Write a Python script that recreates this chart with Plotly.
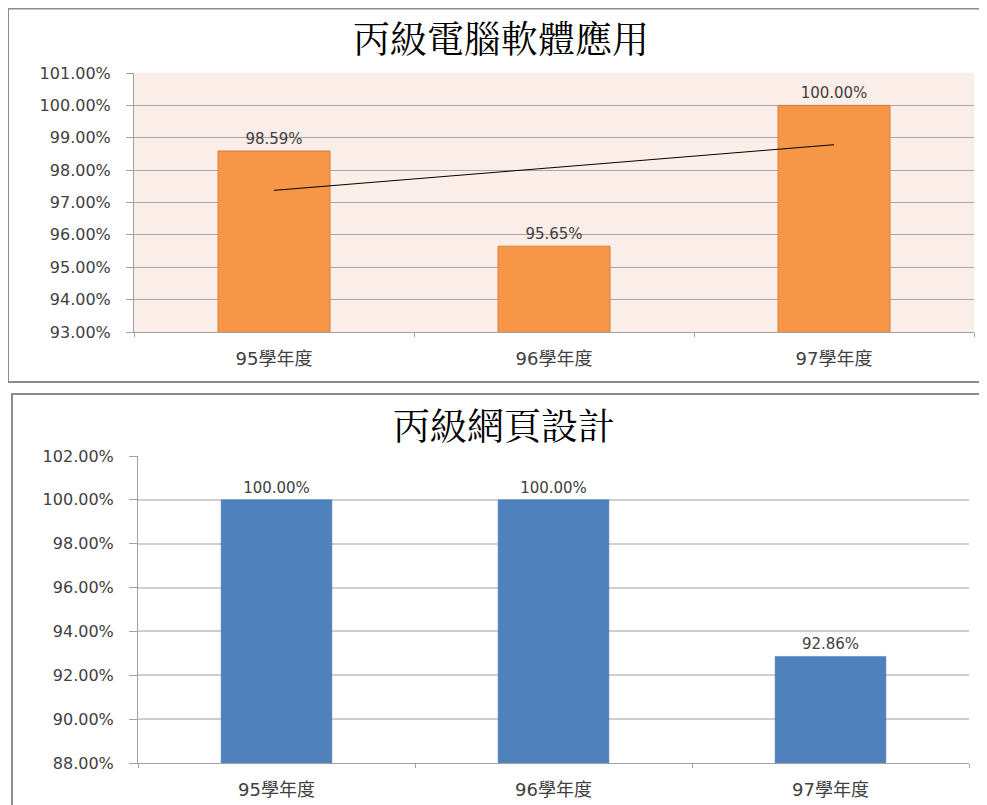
import numpy as np
import plotly.graph_objects as go

# ---- data ----
categories = ["95學年度", "96學年度", "97學年度"]
title_top = "丙級電腦軟體應用"
values_top = [98.59, 95.65, 100.00]
title_bottom = "丙級網頁設計"
values_bottom = [100.00, 100.00, 92.86]
yticks_top = [93, 94, 95, 96, 97, 98, 99, 100, 101]
yticks_bottom = [88, 90, 92, 94, 96, 98, 100, 102]

W, H = 987, 805
OX, OY = 8, 8  # page body margin offset
def px_x(x): return (x - OX) / W
def px_y(y): return 1 - (y - OY) / H

# linear trendline of the top series (least squares over category index)
idx = np.arange(1, len(values_top) + 1)
slope, intercept = np.polyfit(idx, values_top, 1)
trend = [slope * i + intercept for i in idx]

fig = go.Figure()

label_font = dict(family="DejaVu Sans", size=15, color="#404040")

fig.add_trace(go.Bar(
    x=categories, y=values_top, width=0.4,
    marker=dict(color="#F79646", line=dict(color="#D0803E", width=1)),
    text=[f"{v:.2f}%" for v in values_top], textposition="outside",
    textfont=label_font, cliponaxis=False, xaxis="x", yaxis="y",
    showlegend=False, hoverinfo="skip"))
fig.add_trace(go.Scatter(
    x=categories, y=trend, mode="lines",
    line=dict(color="#000000", width=1), xaxis="x", yaxis="y",
    showlegend=False, hoverinfo="skip"))
fig.add_trace(go.Bar(
    x=categories, y=values_bottom, width=0.4,
    marker=dict(color="#4F81BD", line=dict(color="#4A7AB5", width=0.5)),
    text=[f"{v:.2f}%" for v in values_bottom], textposition="outside",
    textfont=label_font, cliponaxis=False, xaxis="x2", yaxis="y2",
    showlegend=False, hoverinfo="skip"))

tick_font = dict(family="DejaVu Sans", size=16, color="#404040")
cat_font = dict(family="DejaVu Sans, Noto Sans CJK TC", size=18, color="#404040")

common_x = dict(type="category", showgrid=False, showline=True, linecolor="#A0A0A0",
                linewidth=1, ticks="outside", tickson="boundaries", ticklen=4,
                tickcolor="#A0A0A0", tickfont=cat_font, ticklabelstandoff=10,
                automargin=False, fixedrange=True)

fig.update_layout(
    width=W, height=H,
    margin=dict(l=0, r=0, t=0, b=0, autoexpand=False),
    paper_bgcolor="white", plot_bgcolor="rgba(0,0,0,0)",
    bargap=0.6,
    xaxis=dict(domain=[px_x(134), px_x(974)], anchor="y", **common_x),
    yaxis=dict(domain=[px_y(332), px_y(73)], anchor="x", range=[93, 101],
               tickvals=yticks_top, ticktext=[f"{v:.2f}%" for v in yticks_top],
               showgrid=True, gridcolor="#A6A6A6", gridwidth=1,
               showline=True, linecolor="#A0A0A0", linewidth=1,
               ticks="outside", ticklen=7, tickcolor="#A0A0A0",
               tickfont=tick_font, ticklabelstandoff=12, zeroline=False,
               automargin=False, fixedrange=True),
    xaxis2=dict(domain=[px_x(138), px_x(969)], anchor="y2", **common_x),
    yaxis2=dict(domain=[px_y(763), px_y(456)], anchor="x2", range=[88, 102],
                tickvals=yticks_bottom, ticktext=[f"{v:.2f}%" for v in yticks_bottom],
                showgrid=True, gridcolor="#CFCFCF", gridwidth=1.5,
                showline=True, linecolor="#A0A0A0", linewidth=1,
                ticks="outside", ticklen=8, tickcolor="#A0A0A0",
                tickfont=tick_font, ticklabelstandoff=12, zeroline=False,
                automargin=False, fixedrange=True),
)

# top plot area background
fig.add_shape(type="rect", xref="x domain", yref="y domain", x0=0, x1=1, y0=0, y1=1,
              fillcolor="#FBEDE8", line=dict(width=0), layer="below")

# chart frames
fig.add_shape(type="rect", xref="paper", yref="paper",
              x0=px_x(8), x1=px_x(1000), y0=px_y(382), y1=px_y(8.5),
              line=dict(color="#8C8C8C", width=2), fillcolor="rgba(0,0,0,0)")
fig.add_shape(type="rect", xref="paper", yref="paper",
              x0=px_x(12), x1=px_x(1000), y0=px_y(820), y1=px_y(394),
              line=dict(color="#8C8C8C", width=2), fillcolor="rgba(0,0,0,0)")

title_font = dict(family="Noto Serif CJK TC, Noto Sans CJK TC", size=37, color="#000000")
fig.add_annotation(text=title_top, xref="paper", yref="paper",
                   x=px_x(501), y=px_y(37), showarrow=False, font=title_font,
                   xanchor="center", yanchor="middle")
fig.add_annotation(text=title_bottom, xref="paper", yref="paper",
                   x=px_x(504), y=px_y(424), showarrow=False, font=title_font,
                   xanchor="center", yanchor="middle")

fig.write_html("out.html")
